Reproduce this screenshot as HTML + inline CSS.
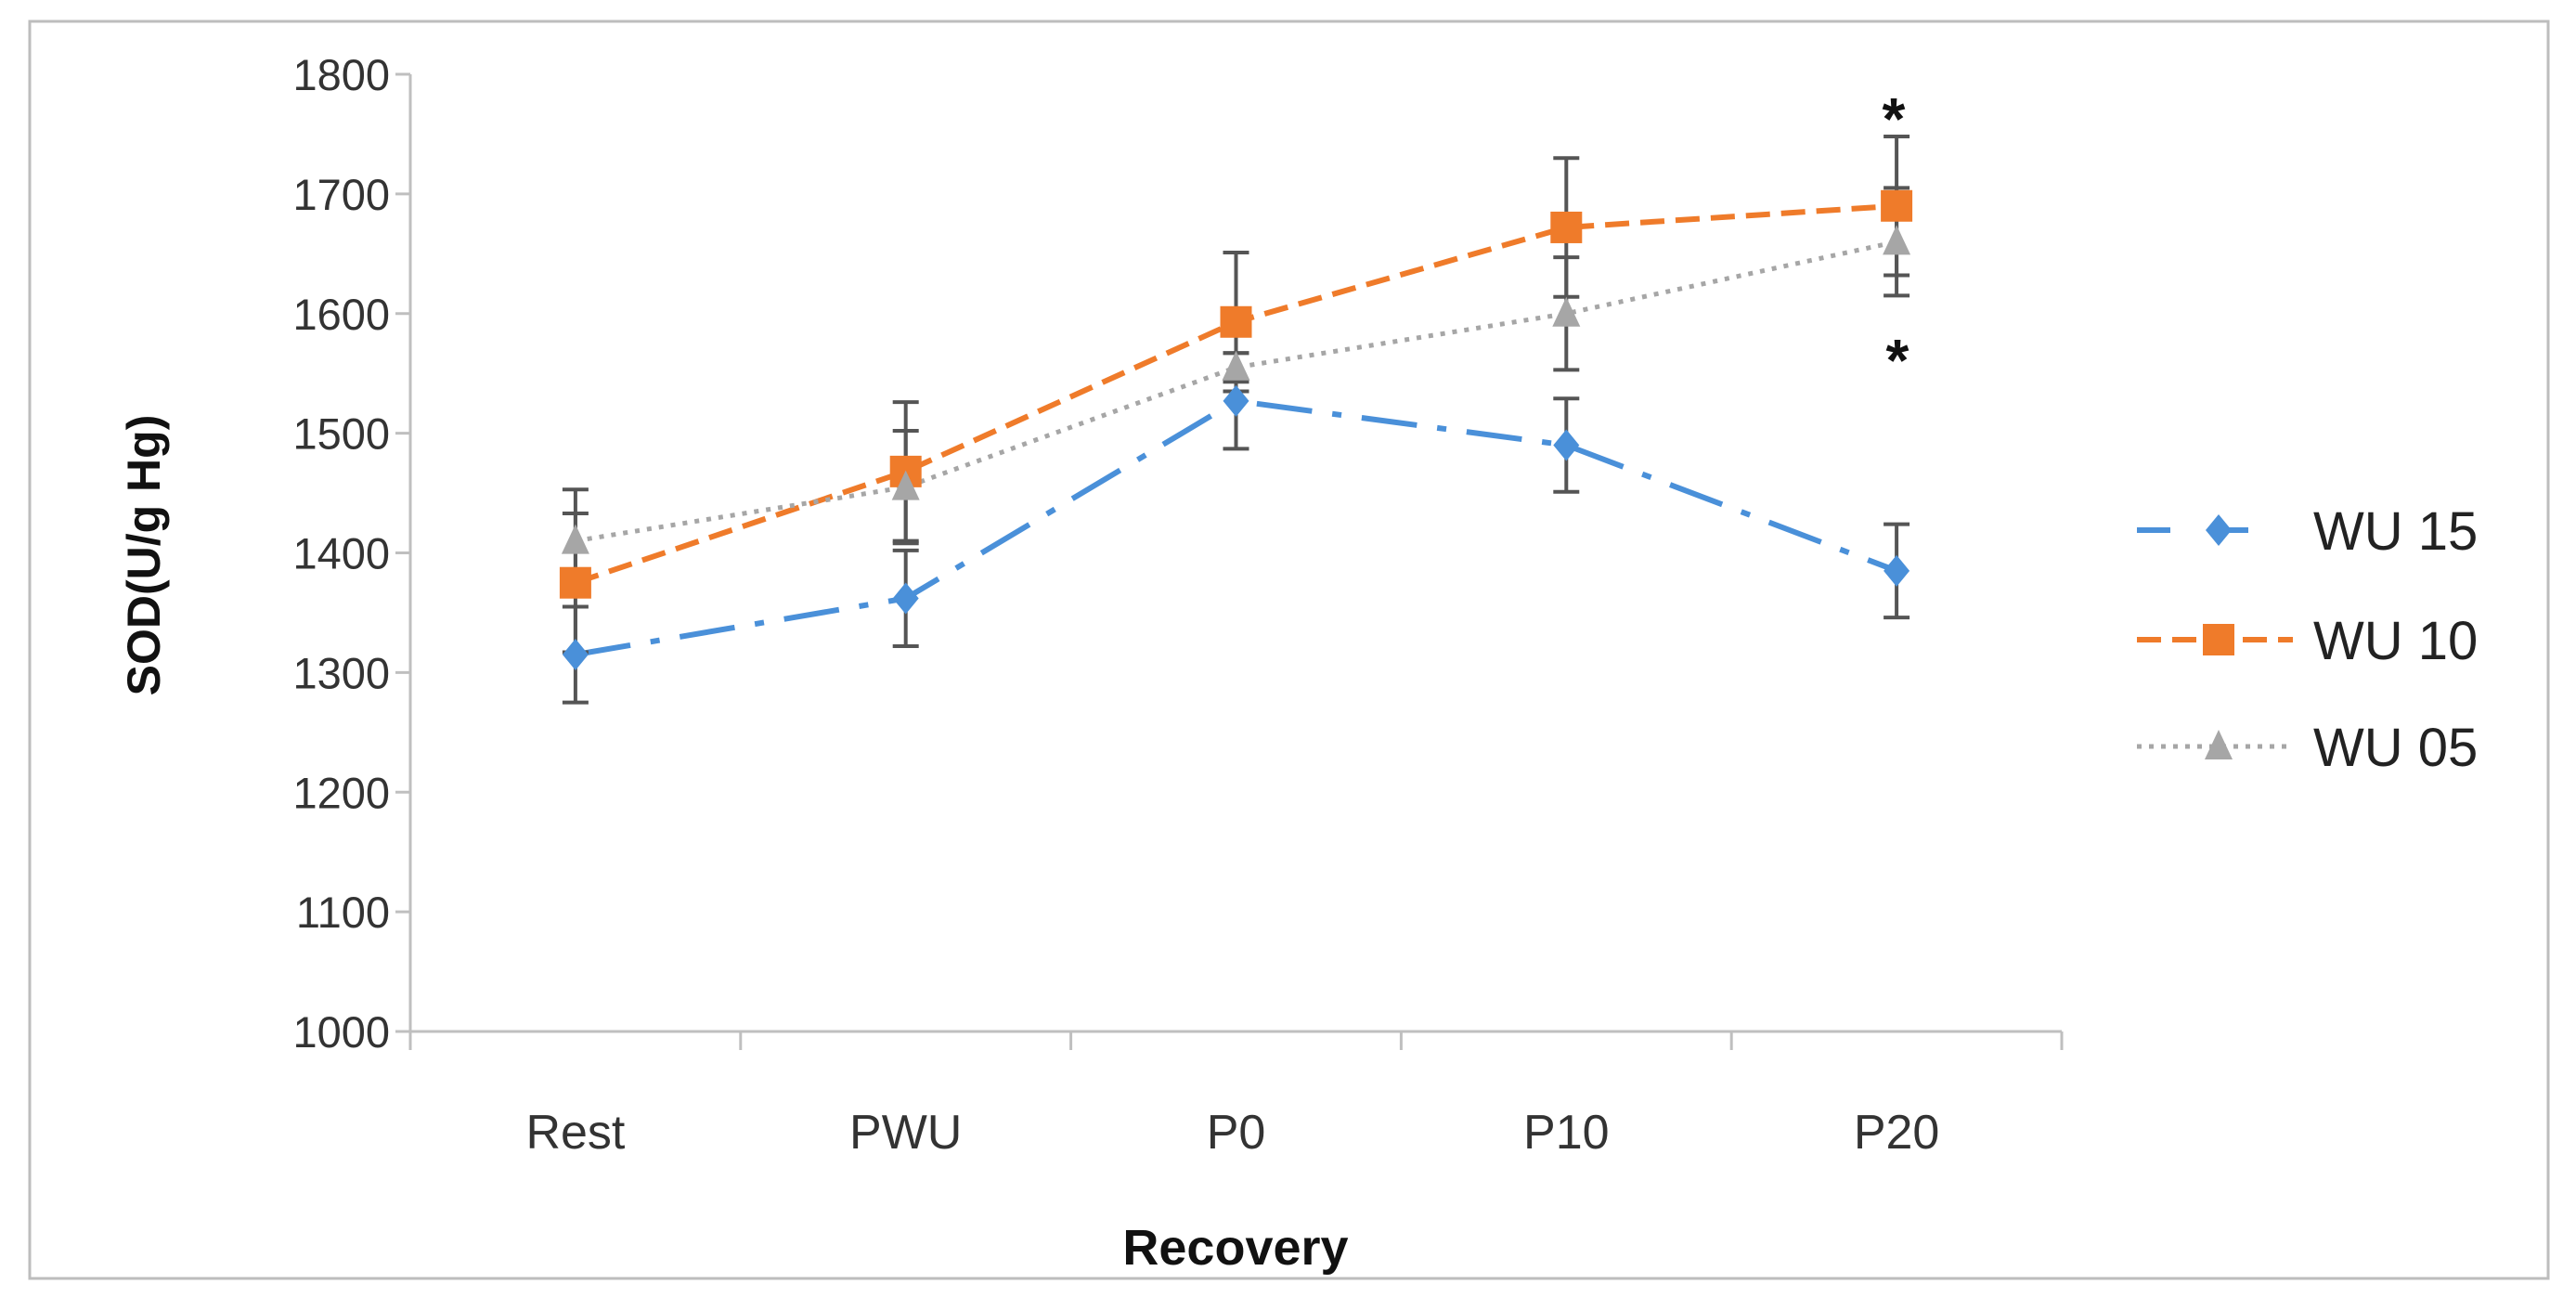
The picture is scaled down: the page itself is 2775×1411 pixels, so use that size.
<!DOCTYPE html>
<html><head><meta charset="utf-8"><style>
html,body{margin:0;padding:0;background:#fff;}
svg{display:block;font-family:"Liberation Sans",sans-serif;}
</style></head><body>
<svg id="chart" width="2775" height="1411" viewBox="0 0 2775 1411">
<rect x="32" y="23" width="2713" height="1354" fill="#fff" stroke="#bdbdbd" stroke-width="3"/>
<g id="axes"></g>
<g id="series"></g>
<text x="172" y="598" transform="rotate(-90 172 598)" text-anchor="middle" font-weight="bold" font-size="50" fill="#111">SOD(U/g Hg)</text>
<text x="1331" y="1362" text-anchor="middle" font-weight="bold" font-size="54" fill="#111">Recovery</text>
<text x="2040" y="150" text-anchor="middle" font-weight="bold" font-size="64" fill="#111">*</text>
<text x="2044" y="410" text-anchor="middle" font-weight="bold" font-size="64" fill="#111">*</text>
<g id="legend"></g>
</svg>
<script>
const categories = ["Rest","PWU","P0","P10","P20"];
const yTicks = [1000,1100,1200,1300,1400,1500,1600,1700,1800];
const wu15 = [1315,1362,1527,1490,1385];
const wu15Err = [40,40,40,39,39];
const wu10 = [1375,1468,1593,1672,1690];
const wu10Err = [58,58,58,58,58];
const wu05 = [1410,1455,1555,1600,1660];
const wu05Err = [43,47,12,47,45];
const seriesNames = ["WU 15","WU 10","WU 05"];

const NS="http://www.w3.org/2000/svg";
const X0=442,X1=2221,Y0=1111,Y1=80,YMIN=1000,YMAX=1800;
const bw=(X1-X0)/categories.length;
const xs=i=>X0+bw*(i+0.5);
const ys=v=>Y0-(v-YMIN)/(YMAX-YMIN)*(Y0-Y1);
function mk(tag,attrs,parent){const e=document.createElementNS(NS,tag);for(const k in attrs)e.setAttribute(k,attrs[k]);parent.appendChild(e);return e;}
const axes=document.getElementById('axes');
let e=mk('line',{x1:X0,y1:Y1,x2:X0,y2:Y0,stroke:'#bfbfbf','stroke-width':3},axes);


e=mk('line',{x1:X0-16,y1:Y0,x2:X1,y2:Y0,stroke:'#bfbfbf','stroke-width':3},axes);


yTicks.forEach(t=>{
  const y=ys(t);
  const l=mk('line',{x1:X0-16,y1:y,x2:X0,y2:y,stroke:'#bfbfbf','stroke-width':3},axes);
  
  
  const tx=mk('text',{x:420,y:y+17,'text-anchor':'end','font-size':47,fill:'#333'},axes);
  tx.textContent=t;
  
  
});
for(let i=0;i<=categories.length;i++){
  const x=X0+bw*i;
  const l=mk('line',{x1:x,y1:Y0,x2:x,y2:Y0+20,stroke:'#bfbfbf','stroke-width':3},axes);
  
  
}
categories.forEach((c,i)=>{
  const tx=mk('text',{x:xs(i),y:1237,'text-anchor':'middle','font-size':52,fill:'#333'},axes);
  tx.textContent=c;
  
  
});
const S=document.getElementById('series');
const defs=[
 {vals:wu15,err:wu15Err,color:'#4a90d9',dash:'60 22 10 22',marker:'diamond',name:'wu15'},
 {vals:wu10,err:wu10Err,color:'#ef7b2a',dash:'26 12',marker:'square',name:'wu10'},
 {vals:wu05,err:wu05Err,color:'#a6a6a6',dash:'5 8',marker:'triangle',name:'wu05'}
];
function marker(type,x,y,color,parent){
  let m;
  if(type==='diamond') m=mk('polygon',{points:`${x},${y-17} ${x+14},${y} ${x},${y+17} ${x-14},${y}`,fill:color},parent);
  else if(type==='square') m=mk('rect',{x:x-17,y:y-17,width:34,height:34,fill:color},parent);
  else m=mk('polygon',{points:`${x},${y-18} ${x+15},${y+14} ${x-15},${y+14}`,fill:color},parent);
  return m;
}
defs.forEach(d=>{
  const pts=d.vals.map((v,i)=>xs(i)+','+ys(v)).join(' ');
  const p=mk('polyline',{points:pts,fill:'none',stroke:d.color,'stroke-width':d.name==='wu05'?5:6,'stroke-dasharray':d.dash},S);
  
  
});
defs.forEach(d=>{
  d.vals.forEach((v,i)=>{
    const x=xs(i),a=ys(v+d.err[i]),b=ys(v-d.err[i]);
    const g=mk('g',{stroke:'#555','stroke-width':4},S);
    
    
    mk('line',{x1:x,y1:a,x2:x,y2:b},g);
    mk('line',{x1:x-14,y1:a,x2:x+14,y2:a},g);
    mk('line',{x1:x-14,y1:b,x2:x+14,y2:b},g);
  });
});
defs.forEach(d=>{
  d.vals.forEach((v,i)=>{
    const m=marker(d.marker,xs(i),ys(v),d.color,S);
    
    
  });
});
const L=document.getElementById('legend');
const ly=[571,689,804];
defs.forEach((d,i)=>{
  const g=mk('g',{},L);
  
  
  mk('line',{x1:2302,y1:ly[i],x2:2470,y2:ly[i],stroke:d.color,'stroke-width':d.name==='wu05'?5:6,'stroke-dasharray':d.name==='wu15'?'36 48':d.dash},g);
  marker(d.marker,2390,ly[i],d.color,g);
  const t=mk('text',{x:2492,y:ly[i]+21,'font-size':58,fill:'#222'},g);
  t.textContent=seriesNames[i];
});
</script>
</body></html>
